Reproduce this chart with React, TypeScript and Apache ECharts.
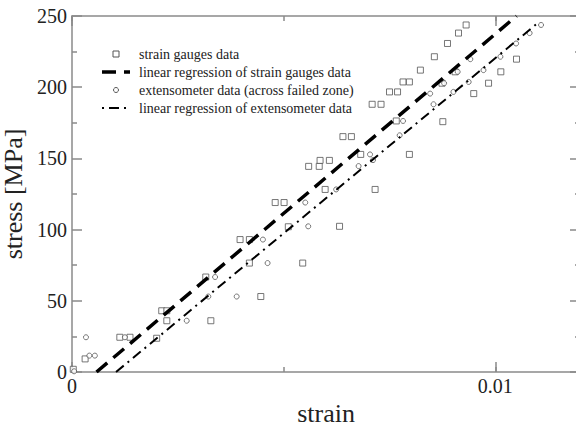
import React, { useEffect, useRef } from "react";
import * as echarts from "echarts";

// strain gauges data (squares)
const gaugeStrain = [
  0.00003, 0.00031, 0.00113, 0.00137, 0.0020, 0.00212, 0.00224, 0.00224, 0.00328, 0.00316,
  0.00397, 0.00419, 0.00419, 0.00446, 0.0048, 0.00501, 0.00511, 0.00545, 0.00559, 0.00584,
  0.00586, 0.00608, 0.00598, 0.00632, 0.0064, 0.0066, 0.00682, 0.00716, 0.00709, 0.0073,
  0.0075, 0.00769, 0.00766, 0.00797, 0.00782, 0.00797, 0.00823, 0.00856, 0.00874, 0.00876,
  0.00887, 0.00905, 0.00913, 0.00931, 0.00949, 0.00984, 0.01013, 0.0105,
];
const gaugeStress = [
  1.9, 9.2, 24.4, 24.4, 23.7, 43, 43, 36, 36, 66.7,
  93, 93, 76.5, 53, 119, 119, 102, 76.5, 144.4, 144.4,
  148.6, 148.6, 128.2, 102.3, 165.3, 165.3, 152.8, 128.2, 188, 188,
  196.7, 196.7, 176.3, 152.8, 203.7, 203.7, 212, 221.4, 202.8, 175.8,
  230.7, 210.8, 238, 243.7, 195.5, 202.8, 210.8, 219.7,
];

// extensometer data (circles)
const extStrain = [
  0.00005, 0.00033, 0.00041, 0.00054, 0.00125, 0.00271, 0.00322, 0.00338, 0.00389, 0.00451,
  0.00462, 0.00551, 0.00558, 0.00624, 0.00677, 0.00704, 0.00711, 0.00774, 0.00782, 0.00846,
  0.00854, 0.00879, 0.00901, 0.00911, 0.00937, 0.00941, 0.00972, 0.01012, 0.01049, 0.01081,
  0.01108,
];
const extStress = [
  0.5, 24.4, 11.5, 11.5, 24.4, 36, 53, 66.7, 53, 93,
  76.5, 119, 102.3, 128.2, 144.6, 152.8, 148.8, 166.2, 176.3, 195.5,
  188, 202.8, 196.7, 210.8, 203.7, 219.7, 212, 221.4, 230.7, 238,
  243.7,
];

// regression lines (end points)
const gaugeFitStrain = [0.00058, 0.0105];
const gaugeFitStress = [0, 250];
const extFitStrain = [0.00104, 0.011];
const extFitStress = [0, 245];

const xTickLabels = ["0", "0.01"];
const xTickValues = [0, 0.01];

const seriesNames = [
  "strain gauges data",
  "linear regression of strain gauges data",
  "extensometer data (across failed zone)",
  "linear regression of extensometer data",
];

const FONT = "Liberation Serif";
const AXIS_GRAY = "#8a8a8a";
const TEXT = "#222";
const MARK_GRAY = "#555";

const THICK_DASH = [14, 8];
const DASH_DOT = [10, 5, 2, 5];

function pairs(xs: number[], ys: number[]) {
  return xs.map((x, i) => [x, ys[i]]);
}

function legendGraphic() {
  const left = 102;
  const top = 54;
  const gap = 18;
  const iconW = 28;
  const textX = 139;
  const els: any[] = [];
  els.push({
    type: "rect",
    shape: { x: left + iconW / 2 - 3, y: top - 3, width: 6, height: 6 },
    style: { fill: "#fff", stroke: MARK_GRAY, lineWidth: 1 },
  });
  els.push({
    type: "line",
    shape: { x1: left, y1: top + gap, x2: left + iconW, y2: top + gap },
    style: { stroke: "#000", lineWidth: 3.5, lineDash: THICK_DASH },
  });
  els.push({
    type: "circle",
    shape: { cx: left + iconW / 2, cy: top + 2 * gap, r: 2.5 },
    style: { fill: "#fff", stroke: MARK_GRAY, lineWidth: 1 },
  });
  els.push({
    type: "line",
    shape: { x1: left, y1: top + 3 * gap, x2: left + iconW, y2: top + 3 * gap },
    style: { stroke: "#000", lineWidth: 2, lineDash: [2, 5, 10, 5] },
  });
  seriesNames.forEach((name, i) => {
    els.push({
      type: "text",
      x: textX,
      y: top + i * gap,
      style: {
        text: name,
        fontFamily: FONT,
        fontSize: 14,
        fill: TEXT,
        verticalAlign: "middle",
        align: "left",
      },
    });
  });
  return els;
}

export default function App() {
  const ref = useRef<HTMLDivElement>(null);
  useEffect(() => {
    if (!ref.current) return;
    const chart = echarts.init(ref.current, null, { renderer: "svg" });
    const tickStyle = { color: AXIS_GRAY, width: 1.5 };
    const baseX = {
      type: "value" as const,
      min: 0,
      max: 0.012,
      splitLine: { show: false },
      axisLine: { show: true, onZero: false, lineStyle: { color: AXIS_GRAY, width: 1.5 } },
    };
    const xFormatter = (v: number) => {
      for (let i = 0; i < xTickValues.length; i++) {
        if (Math.abs(v - xTickValues[i]) < 1e-9) return xTickLabels[i];
      }
      return "";
    };
    chart.setOption({
      animation: false,
      grid: { left: 72, top: 16, bottom: 55, right: -4, containLabel: false, outerBoundsMode: "none" },
      graphic: legendGraphic(),
      xAxis: [
        {
          ...baseX,
          position: "bottom",
          interval: 0.01,
          axisTick: { inside: true, length: 10, lineStyle: tickStyle },
          axisLabel: { formatter: xFormatter, fontFamily: FONT, fontSize: 20, color: TEXT, margin: 4 },
          name: "strain",
          nameLocation: "middle",
          nameGap: 27,
          nameTextStyle: { fontFamily: FONT, fontSize: 26, color: TEXT, lineHeight: 26 },
        },
        {
          ...baseX,
          position: "bottom",
          interval: 0.005,
          axisLine: { show: false, onZero: false },
          axisTick: { inside: true, length: 5, lineStyle: tickStyle },
          axisLabel: { show: false },
        },
        {
          ...baseX,
          position: "top",
          interval: 0.01,
          axisTick: { inside: true, length: 10, lineStyle: tickStyle },
          axisLabel: { show: false },
        },
        {
          ...baseX,
          position: "top",
          interval: 0.005,
          axisLine: { show: false, onZero: false },
          axisTick: { inside: true, length: 5, lineStyle: tickStyle },
          axisLabel: { show: false },
        },
      ],
      yAxis: [
        {
          type: "value",
          position: "left",
          min: 0,
          max: 250,
          interval: 50,
          splitLine: { show: false },
          axisLine: { show: true, onZero: false, lineStyle: { color: AXIS_GRAY, width: 1.5 } },
          axisTick: { inside: true, length: 10, lineStyle: tickStyle },
          minorTick: { show: true, splitNumber: 2, length: 5, lineStyle: tickStyle },
          axisLabel: { fontFamily: FONT, fontSize: 20, color: TEXT, margin: 5 },
          name: "stress [MPa]",
          nameLocation: "middle",
          nameGap: 30,
          nameRotate: 90,
          nameTextStyle: { fontFamily: FONT, fontSize: 26, color: TEXT, lineHeight: 26 },
        },
        {
          type: "value",
          position: "right",
          min: 0,
          max: 250,
          interval: 50,
          splitLine: { show: false },
          axisLine: { show: true, onZero: false, lineStyle: { color: AXIS_GRAY, width: 1.5 } },
          axisTick: { inside: true, length: 10, lineStyle: tickStyle },
          minorTick: { show: true, splitNumber: 2, length: 5, lineStyle: tickStyle },
          axisLabel: { show: false },
        },
      ],
      series: [
        {
          name: seriesNames[0],
          type: "scatter",
          symbol: "rect",
          symbolSize: 6,
          silent: true,
          itemStyle: { color: "#fff", borderColor: MARK_GRAY, borderWidth: 1 },
          data: pairs(gaugeStrain, gaugeStress),
          z: 3,
        },
        {
          name: seriesNames[1],
          type: "line",
          symbol: "none",
          silent: true,
          lineStyle: { color: "#000", width: 3.5, type: THICK_DASH },
          data: pairs(gaugeFitStrain, gaugeFitStress),
          z: 4,
        },
        {
          name: seriesNames[2],
          type: "scatter",
          symbol: "circle",
          symbolSize: 5,
          silent: true,
          itemStyle: { color: "#fff", borderColor: MARK_GRAY, borderWidth: 1 },
          data: pairs(extStrain, extStress),
          z: 3,
        },
        {
          name: seriesNames[3],
          type: "line",
          symbol: "none",
          silent: true,
          lineStyle: { color: "#000", width: 2, type: DASH_DOT },
          data: pairs(extFitStrain, extFitStress),
          z: 4,
        },
      ],
    });
    return () => chart.dispose();
  }, []);
  return (
    <div
      ref={ref}
      style={{ position: "absolute", left: 0, top: 0, width: 576, height: 427, background: "#fff" }}
    />
  );
}
